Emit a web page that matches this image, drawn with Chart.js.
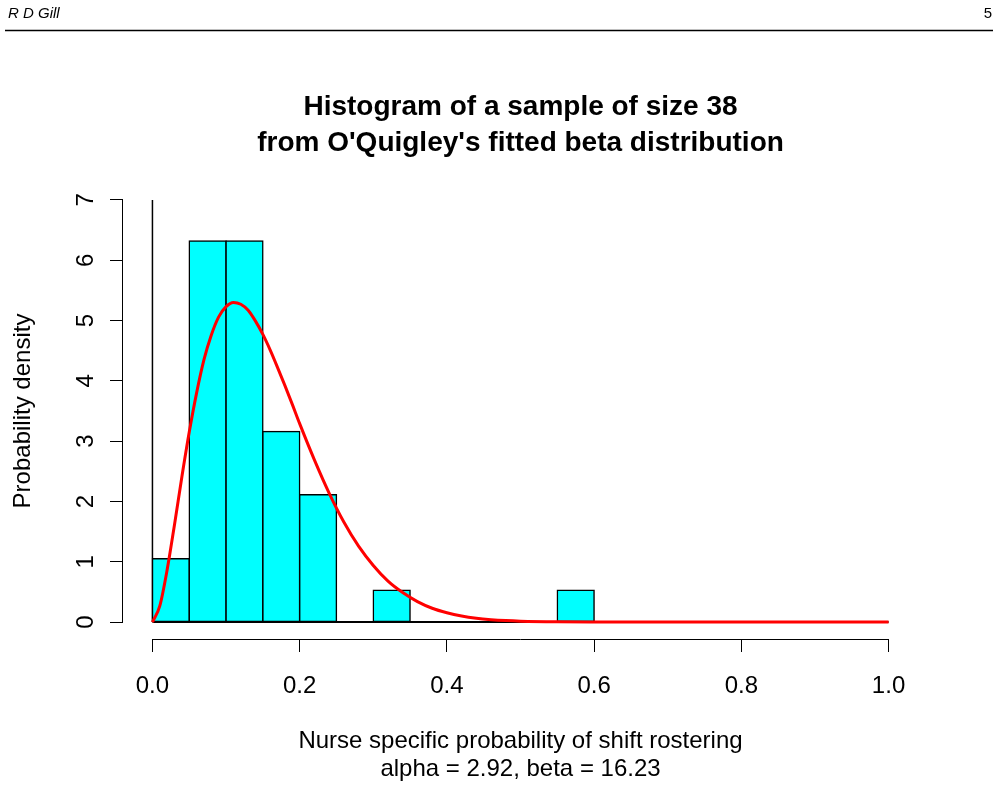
<!DOCTYPE html>
<html>
<head>
<meta charset="utf-8">
<title>Histogram of a sample of size 38</title>
<script src="https://cdn.jsdelivr.net/npm/chart.js@4/dist/chart.umd.min.js"></script>
<style>
  body { margin: 0; background: #fff; }
  canvas { display: block; }
</style>
</head>
<body>
<canvas id="hist" width="999" height="788"></canvas>
<script>
// histogram bins (left edges, width 0.05) and densities
const binStarts = [0.00, 0.05, 0.10, 0.15, 0.20, 0.25, 0.30, 0.35, 0.40, 0.45,
                   0.50, 0.55, 0.60, 0.65, 0.70, 0.75, 0.80, 0.85, 0.90, 0.95];
const binWidth = 0.05;
const densities = [1.05, 6.32, 6.32, 3.16, 2.11, 0, 0.53, 0, 0, 0,
                   0, 0.53, 0, 0, 0, 0, 0, 0, 0, 0];

// fitted beta density (red curve)
const curveX = [0, 0.01, 0.02, 0.03, 0.04, 0.05, 0.06, 0.07, 0.08, 0.09, 0.10,
                0.11, 0.12, 0.13, 0.14, 0.15, 0.16, 0.17, 0.18, 0.19, 0.20,
                0.22, 0.24, 0.26, 0.28, 0.30, 0.32, 0.34, 0.36, 0.38, 0.40,
                0.42, 0.44, 0.46, 0.48, 0.50, 0.55, 0.60, 0.70, 0.80, 0.90, 1.00];
const curveY = [0, 0.27, 0.87, 1.62, 2.41, 3.15, 3.80, 4.35, 4.76, 5.06, 5.23,
                5.30, 5.27, 5.17, 4.99, 4.77, 4.51, 4.22, 3.92, 3.61, 3.29,
                2.69, 2.14, 1.66, 1.26, 0.94, 0.68, 0.49, 0.34, 0.23, 0.156,
                0.102, 0.065, 0.041, 0.025, 0.015, 0.004, 0.001, 0, 0, 0, 0];

const xTicks = [0, 0.2, 0.4, 0.6, 0.8, 1.0];
const yTicks = [0, 1, 2, 3, 4, 5, 6, 7];

const titleLines = ['Histogram of a sample of size 38', "from O'Quigley's fitted beta distribution"];
const xTitleLines = ['Nurse specific probability of shift rostering', 'alpha = 2.92, beta = 16.23'];
const yTitle = 'Probability density';

const FONT = "'Liberation Sans', Arial, Helvetica, sans-serif";

// page header and the R-style axis lines (only from first to last tick)
const pagePlugin = {
  id: 'pagePlugin',
  beforeDraw(chart) {
    const ctx = chart.ctx;
    ctx.save();
    ctx.fillStyle = '#000';
    ctx.font = 'italic 15px ' + FONT;
    ctx.textBaseline = 'alphabetic';
    ctx.textAlign = 'left';
    ctx.fillText('R D Gill', 8, 18);
    ctx.font = '15px ' + FONT;
    ctx.textAlign = 'right';
    ctx.fillText('5', 992, 18);
    ctx.strokeStyle = '#000';
    ctx.lineWidth = 1.5;
    ctx.beginPath();
    ctx.moveTo(5, 30.5);
    ctx.lineTo(993, 30.5);
    ctx.stroke();
    ctx.restore();
  },
  afterDraw(chart) {
    const {ctx, chartArea, scales} = chart;
    ctx.save();
    ctx.strokeStyle = '#000';
    ctx.lineWidth = 1;
    ctx.beginPath();
    const yb = Math.round(chartArea.bottom) + 0.5;
    ctx.moveTo(scales.x.getPixelForValue(xTicks[0]), yb);
    ctx.lineTo(scales.x.getPixelForValue(xTicks[xTicks.length - 1]), yb);
    const xl = Math.round(chartArea.left) - 0.5;
    ctx.moveTo(xl, scales.y.getPixelForValue(yTicks[0]));
    ctx.lineTo(xl, scales.y.getPixelForValue(yTicks[yTicks.length - 1]));
    ctx.stroke();
    ctx.restore();
  }
};

const barData = binStarts.map((b, i) => ({x: b + binWidth / 2, y: densities[i]}));
const curveData = curveX.map((x, i) => ({x: x, y: curveY[i]}));
const lastEdge = binStarts[binStarts.length - 1] + binWidth;

new Chart(document.getElementById('hist').getContext('2d'), {
  type: 'bar',
  data: {
    datasets: [
      {
        type: 'line',
        label: 'beta density',
        data: curveData,
        borderColor: '#ff0000',
        borderWidth: 3,
        pointRadius: 0,
        cubicInterpolationMode: 'monotone',
        order: 0
      },
      {
        type: 'line',
        label: 'baseline',
        data: [{x: binStarts[0], y: 0}, {x: lastEdge, y: 0}],
        borderColor: '#000',
        borderWidth: 2,
        pointRadius: 0,
        order: 1
      },
      {
        label: 'histogram',
        data: barData,
        backgroundColor: '#00ffff',
        borderColor: '#000',
        borderWidth: 1.5,
        borderSkipped: false,
        inflateAmount: 0.75,
        barPercentage: 1,
        categoryPercentage: 1,
        order: 2
      },
      {
        type: 'line',
        label: 'zero line',
        data: [{x: 0, y: 0}, {x: 0, y: 7}],
        borderColor: '#000',
        borderWidth: 1.5,
        pointRadius: 0,
        order: 3
      }
    ]
  },
  options: {
    responsive: false,
    animation: false,
    devicePixelRatio: 1,
    layout: {padding: {top: 40, right: 81, bottom: 0, left: 0}},
    plugins: {
      legend: {display: false},
      tooltip: {enabled: false},
      title: {
        display: true,
        fullSize: false,
        text: titleLines,
        color: '#000',
        font: {family: FONT, size: 28, weight: 'bold', lineHeight: '36px'},
        padding: {top: 49, bottom: 22}
      }
    },
    scales: {
      x: {
        type: 'linear',
        min: -0.04,
        max: 1.04,
        offset: false,
        afterBuildTicks: (scale) => { scale.ticks = xTicks.map(v => ({value: v})); },
        afterFit: (scale) => { scale.height = 149; },
        border: {display: false},
        grid: {offset: false, drawOnChartArea: false, drawTicks: true, tickLength: 13, color: '#000', tickColor: '#000', lineWidth: 1},
        ticks: {
          color: '#000',
          padding: 20,
          maxRotation: 0,
          font: {family: FONT, size: 24, lineHeight: 1.2},
          callback: (v) => Number(v).toFixed(1)
        },
        title: {
          display: true,
          text: xTitleLines,
          color: '#000',
          font: {family: FONT, size: 24, lineHeight: '28px'},
          padding: {top: 0, bottom: 5}
        }
      },
      y: {
        type: 'linear',
        min: -0.28,
        max: 7.28,
        afterBuildTicks: (scale) => { scale.ticks = yTicks.map(v => ({value: v})); },
        afterFit: (scale) => { scale.width = 123; },
        border: {display: false},
        grid: {offset: false, drawOnChartArea: false, drawTicks: true, tickLength: 13, color: '#000', tickColor: '#000', lineWidth: 1},
        ticks: {
          color: '#000',
          padding: 17,
          minRotation: 90,
          maxRotation: 90,
          crossAlign: 'center',
          font: {family: FONT, size: 24, lineHeight: 1.2},
          callback: (v) => String(v)
        },
        title: {
          display: true,
          text: yTitle,
          color: '#000',
          font: {family: FONT, size: 24, lineHeight: '28px'},
          padding: {top: 9, bottom: 0}
        }
      }
    }
  },
  plugins: [pagePlugin]
});
</script>
</body>
</html>
